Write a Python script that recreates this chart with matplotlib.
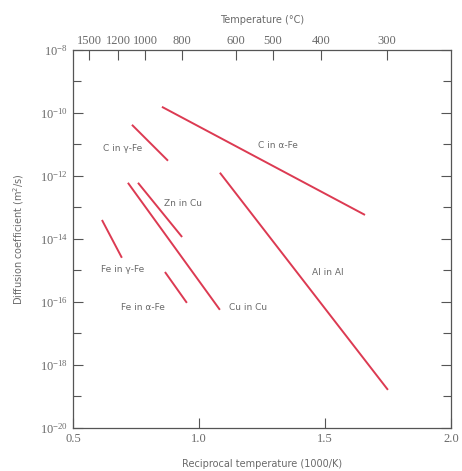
import numpy as np
import matplotlib
matplotlib.use("Agg")
import matplotlib.pyplot as plt
from matplotlib.ticker import FixedLocator, NullFormatter

# Diffusion lines: (label, x endpoints in 1000/K, log10 D endpoints)
names = ["C in α-Fe", "C in γ-Fe", "Zn in Cu", "Cu in Cu", "Fe in γ-Fe", "Fe in α-Fe", "Al in Al"]
x_start = [0.853, 0.734, 0.758, 0.718, 0.615, 0.865, 1.083]
x_end = [1.659, 0.877, 0.933, 1.083, 0.694, 0.952, 1.750]
logD_start = [-9.81, -10.38, -12.22, -12.22, -13.40, -15.05, -11.90]
logD_end = [-13.24, -11.52, -13.94, -16.25, -14.60, -16.03, -18.79]

# label anchor positions (data coords)
label_x = [1.313, 0.698, 0.937, 1.194, 0.698, 0.778, 1.512]
label_logD = [-11.05, -11.14, -12.89, -16.19, -14.98, -16.19, -15.08]

temps_C = [1500, 1200, 1000, 800, 600, 500, 400, 300]
y_major_exp = [-8, -10, -12, -14, -16, -18, -20]
y_minor_exp = [-9, -11, -13, -15, -17, -19]
x_ticks = [0.5, 1.0, 1.5, 2.0]
x_tick_labels = ["0.5", "1.0", "1.5", "2.0"]

text_col = "#6a6a6a"
line_col = "#dc3a52"
serif = "Liberation Serif"

fig = plt.figure(figsize=(4.62, 4.71), dpi=100)
ax = fig.add_axes([0.158, 0.0913, 0.818, 0.803])

for xs, xe, ys, ye in zip(x_start, x_end, logD_start, logD_end):
    ax.plot([xs, xe], [10 ** ys, 10 ** ye], color=line_col, lw=1.4, solid_capstyle="butt")

for n, lx, ly in zip(names, label_x, label_logD):
    ax.text(lx, 10 ** ly, n, fontsize=6.5, color=text_col, ha="center", va="center")

ax.set_yscale("log")
ax.set_xlim(0.5, 2.0)
ax.set_ylim(1e-20, 1e-8)
ax.yaxis.set_major_locator(FixedLocator([10.0 ** e for e in y_major_exp]))
ax.yaxis.set_minor_locator(FixedLocator([10.0 ** e for e in y_minor_exp]))
ax.yaxis.set_minor_formatter(NullFormatter())
ax.set_yticks([10.0 ** e for e in y_major_exp])
ax.set_yticklabels([r"$\mathregular{10^{%d}}$" % e for e in y_major_exp], family=serif)
ax.set_xticks(x_ticks)
ax.set_xticklabels(x_tick_labels, family=serif)

ax.tick_params(axis="both", which="major", direction="in", length=7, width=0.8,
               colors="#555555", labelcolor=text_col, labelsize=9, right=True)
ax.tick_params(axis="y", which="minor", direction="in", length=6, width=0.8,
               colors="#555555", right=True)
for s in ax.spines.values():
    s.set_color("#555555")
    s.set_linewidth(0.9)

ax.set_xlabel("Reciprocal temperature (1000/K)", fontsize=7, color=text_col, labelpad=10)
ax.set_ylabel("Diffusion coefficient (m$^2$/s)", fontsize=7, color=text_col, labelpad=10)

top = ax.twiny()
top.set_xlim(ax.get_xlim())
top.set_xticks([1000.0 / (t + 273) for t in temps_C])
top.set_xticklabels([str(t) for t in temps_C], family=serif)
top.tick_params(axis="x", direction="in", length=7, width=0.8, colors="#555555",
                labelcolor=text_col, labelsize=9, pad=2)
top.set_xlabel("Temperature (°C)", fontsize=7, color=text_col, labelpad=9)
for s in top.spines.values():
    s.set_visible(False)

fig.savefig("out.png", dpi=100)
